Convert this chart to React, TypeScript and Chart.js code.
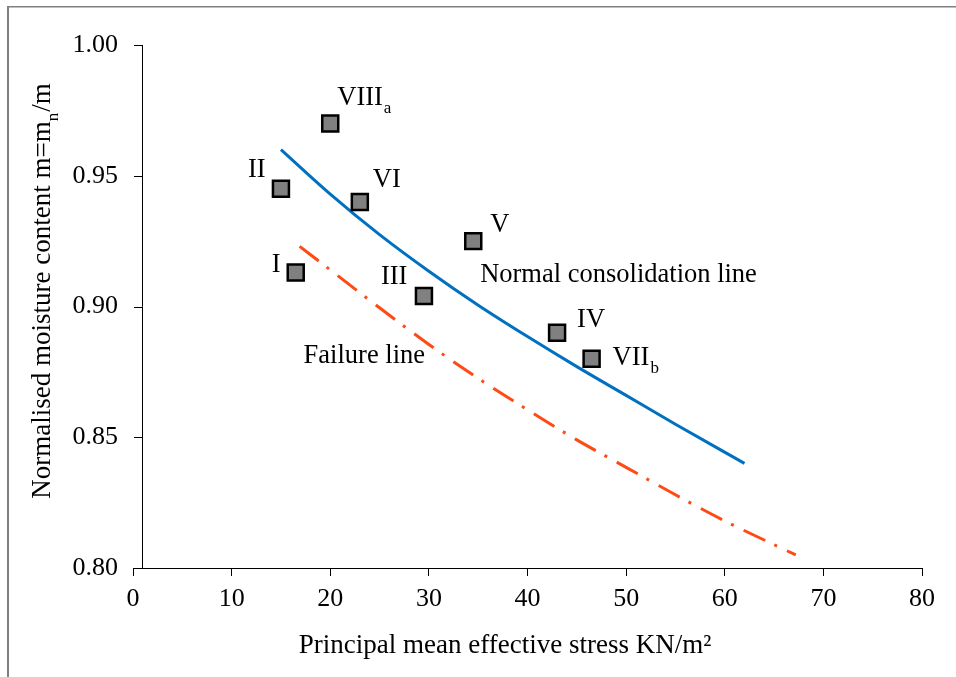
import React, { useEffect, useRef } from "react";
import { Chart, registerables } from "chart.js";

Chart.register(...registerables);

// ---- data ----
const SAMPLE_NAMES = ["I", "II", "III", "IV", "V", "VI", "VII", "VIII"];
const SAMPLE_SUBS = ["", "", "", "", "", "", "b", "a"];
const SAMPLE_STRESS = [16.5, 15, 29.5, 43, 34.5, 23, 46.5, 20];
const SAMPLE_MOISTURE = [0.913, 0.945, 0.904, 0.89, 0.925, 0.94, 0.88, 0.97];

const NCL_STRESS = [15, 20, 25, 30, 35, 40, 45, 50, 55, 62];
const NCL_MOISTURE = [0.96, 0.943, 0.9275, 0.9135, 0.9005, 0.8885, 0.877, 0.866, 0.855, 0.84];

const FAIL_STRESS = [16.9, 20, 25, 30, 35, 40, 45, 50, 55, 60, 67.2];
const FAIL_MOISTURE = [0.923, 0.914, 0.8995, 0.8855, 0.8725, 0.8605, 0.849, 0.8385, 0.828, 0.818, 0.805];

const LINE_LABELS = ["Normal consolidation line", "Failure line"];
const LINE_LABEL_STRESS = [35.2, 17.3];
const LINE_LABEL_MOISTURE = [0.912, 0.881];

const X_MIN = 0;
const X_MAX = 80;
const X_STEP = 10;
const Y_MIN = 0.8;
const Y_MAX = 1.0;
const Y_STEP = 0.05;

const X_TITLE = "Principal mean effective stress KN/m²";
const Y_TITLE_MAIN = "Normalised moisture content m=m";
const Y_TITLE_SUB = "n";
const Y_TITLE_END = "/m";

// ---- styles ----
const FONT = "'Liberation Serif', 'Times New Roman', serif";
const TICK_SIZE = 26;
const LABEL_SIZE = 26.5;
const TITLE_SIZE = 27;
const SUB_SIZE = 17;
// label offsets (px) from each sample's marker: [dx to text left, dy to text middle]
const LABEL_OFFSETS: [number, number][] = [
  [-24, -7],
  [-33, -19],
  [-43, -19],
  [20, -13],
  [17, -16],
  [13, -22],
  [21, -1],
  [7, -25],
];

function drawWithSub(ctx: CanvasRenderingContext2D, x: number, y: number, text: string, sub: string, size: number) {
  ctx.font = `${size}px ${FONT}`;
  ctx.textAlign = "left";
  ctx.textBaseline = "middle";
  ctx.fillText(text, x, y);
  if (sub) {
    const w = ctx.measureText(text).width;
    ctx.font = `${SUB_SIZE}px ${FONT}`;
    ctx.textBaseline = "alphabetic";
    ctx.fillText(sub, x + w + 1, y + 9 + 6);
  }
}

const decorPlugin = {
  id: "decor",
  beforeDraw(chart: any) {
    const ctx = chart.ctx as CanvasRenderingContext2D;
    ctx.save();
    ctx.fillStyle = "#ffffff";
    ctx.fillRect(0, 0, chart.width, chart.height);
    ctx.fillStyle = "#808080";
    ctx.fillRect(7, 6, 2, chart.height - 6);
    ctx.fillRect(7, 6, chart.width - 7, 1.5);
    ctx.restore();
  },
  afterDraw(chart: any) {
    const ctx = chart.ctx as CanvasRenderingContext2D;
    const xs = chart.scales.x;
    const ys = chart.scales.y;
    ctx.save();
    // vertical axis line and its outward ticks
    const x0 = Math.round(xs.getPixelForValue(X_MIN));
    const axisX = x0 + 9.5;
    ctx.strokeStyle = "#000000";
    ctx.lineWidth = 1;
    ctx.beginPath();
    ctx.moveTo(axisX, Math.round(ys.getPixelForValue(Y_MAX)));
    ctx.lineTo(axisX, Math.round(ys.getPixelForValue(Y_MIN)) + 0.5);
    ys.ticks.forEach((t: any) => {
      const py = Math.round(ys.getPixelForValue(t.value)) + 0.5;
      ctx.moveTo(x0 + 1, py);
      ctx.lineTo(axisX, py);
    });
    ctx.stroke();

    ctx.fillStyle = "#000000";
    // sample labels
    SAMPLE_NAMES.forEach((name, i) => {
      const px = xs.getPixelForValue(SAMPLE_STRESS[i]);
      const py = ys.getPixelForValue(SAMPLE_MOISTURE[i]);
      const [dx, dy] = LABEL_OFFSETS[i];
      drawWithSub(ctx, px + dx, py + dy, name, SAMPLE_SUBS[i], LABEL_SIZE);
    });
    // line labels
    LINE_LABELS.forEach((txt, i) => {
      drawWithSub(
        ctx,
        xs.getPixelForValue(LINE_LABEL_STRESS[i]),
        ys.getPixelForValue(LINE_LABEL_MOISTURE[i]),
        txt,
        "",
        LABEL_SIZE
      );
    });

    // x title
    ctx.font = `${TITLE_SIZE}px ${FONT}`;
    ctx.textAlign = "center";
    ctx.textBaseline = "middle";
    ctx.fillText(X_TITLE, 505, 646);

    // y title (rotated, with subscript)
    ctx.translate(43, 291);
    ctx.rotate(-Math.PI / 2);
    ctx.font = `${TITLE_SIZE}px ${FONT}`;
    const w1 = ctx.measureText(Y_TITLE_MAIN).width;
    const w3 = ctx.measureText(Y_TITLE_END).width;
    ctx.font = `${SUB_SIZE}px ${FONT}`;
    const w2 = ctx.measureText(Y_TITLE_SUB).width;
    const total = w1 + w2 + w3 + 1;
    let sx = -total / 2;
    ctx.textAlign = "left";
    ctx.font = `${TITLE_SIZE}px ${FONT}`;
    ctx.textBaseline = "middle";
    ctx.fillText(Y_TITLE_MAIN, sx, 0);
    sx += w1;
    ctx.font = `${SUB_SIZE}px ${FONT}`;
    ctx.textBaseline = "alphabetic";
    ctx.fillText(Y_TITLE_SUB, sx, 9 + 6);
    sx += w2 + 1;
    ctx.font = `${TITLE_SIZE}px ${FONT}`;
    ctx.textBaseline = "middle";
    ctx.fillText(Y_TITLE_END, sx, 0);
    ctx.restore();
  },
};

export default function App() {
  const canvasRef = useRef<HTMLCanvasElement | null>(null);

  useEffect(() => {
    if (!canvasRef.current) return;
    const samples = SAMPLE_STRESS.map((x, i) => ({ x, y: SAMPLE_MOISTURE[i] }));
    const ncl = NCL_STRESS.map((x, i) => ({ x, y: NCL_MOISTURE[i] }));
    const fail = FAIL_STRESS.map((x, i) => ({ x, y: FAIL_MOISTURE[i] }));

    const chart = new Chart(canvasRef.current, {
      type: "scatter",
      data: {
        datasets: [
          {
            label: "Samples",
            data: samples,
            pointStyle: "rect",
            pointRadius: 11.3,
            pointHoverRadius: 11.3,
            backgroundColor: "#808080",
            borderColor: "#000000",
            borderWidth: 2.5,
            showLine: false,
          } as any,
          {
            label: "Normal consolidation line",
            data: ncl,
            showLine: true,
            borderColor: "#0070C0",
            borderWidth: 3,
            pointRadius: 0,
            cubicInterpolationMode: "monotone",
            fill: false,
          } as any,
          {
            label: "Failure line",
            data: fail,
            showLine: true,
            borderColor: "#FF4A14",
            borderWidth: 3,
            borderDash: [24, 10, 3, 11],
            pointRadius: 0,
            cubicInterpolationMode: "monotone",
            fill: false,
          } as any,
        ],
      },
      options: {
        responsive: false,
        animation: false,
        devicePixelRatio: 1,
        layout: { padding: { left: 0, top: 45, right: 34, bottom: 0 } },
        plugins: {
          legend: { display: false },
          tooltip: { enabled: false },
          title: { display: false },
        },
        scales: {
          x: {
            type: "linear",
            min: X_MIN,
            max: X_MAX,
            ticks: {
              stepSize: X_STEP,
              color: "#000000",
              font: { family: FONT, size: TICK_SIZE },
              padding: 8,
              maxRotation: 0,
            },
            grid: {
              display: true,
              drawOnChartArea: false,
              drawTicks: true,
              tickLength: 8,
              tickColor: "#000000",
            },
            border: { display: true, color: "#000000", width: 1 },
            afterFit: (scale: any) => {
              scale.height = 109;
            },
          },
          y: {
            type: "linear",
            min: Y_MIN,
            max: Y_MAX,
            ticks: {
              stepSize: Y_STEP,
              color: "#000000",
              font: { family: FONT, size: TICK_SIZE },
              padding: 7,
              callback: (v: any) => Number(v).toFixed(2),
            },
            grid: {
              display: true,
              drawOnChartArea: false,
              drawTicks: true,
              tickLength: 8,
              tickColor: "rgba(0,0,0,0)",
            },
            border: { display: false },
            afterFit: (scale: any) => {
              scale.width = 133;
            },
          },
        },
      } as any,
      plugins: [decorPlugin],
    });
    return () => chart.destroy();
  }, []);

  return (
    <div style={{ position: "fixed", left: 0, top: 0, width: 956, height: 677, background: "#ffffff" }}>
      <canvas ref={canvasRef} width={956} height={677} style={{ display: "block", width: 956, height: 677 }} />
    </div>
  );
}
